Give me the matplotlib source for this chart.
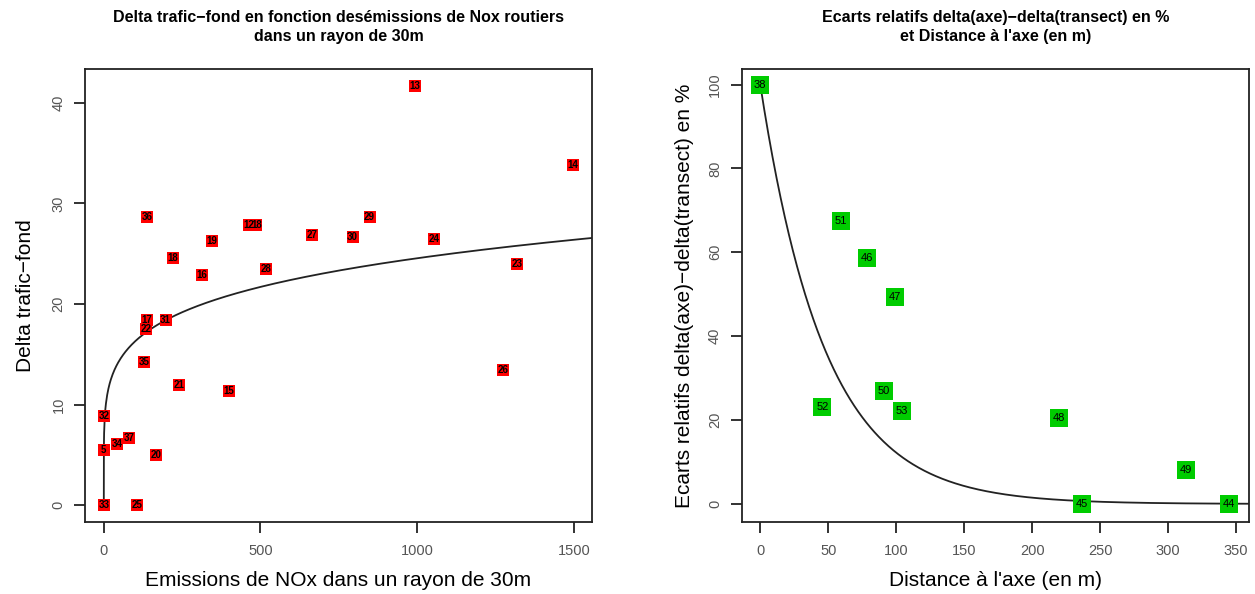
import numpy as np
import matplotlib
matplotlib.use("Agg")
import matplotlib.pyplot as plt

plt.rcParams['font.family'] = ['Liberation Sans Narrow', 'Liberation Sans', 'DejaVu Sans']

# left panel: emissions NOx (30m) vs delta trafic-fond, with site ids
nox = [993, 1498, 138, 345, 462, 487, 666, 794, 848, 1055,
       221, 313, 517, 1320, 138, 197, 136, 128, 241, 400,
       1275, 0, 0, 43, 82, 166, 0, 106]
delta = [41.7, 33.8, 28.7, 26.3, 27.9, 27.9, 26.9, 26.7, 28.7, 26.5,
         24.6, 22.9, 23.5, 24.0, 18.4, 18.4, 17.5, 14.2, 12.0, 11.4,
         13.4, 8.85, 5.5, 6.1, 6.7, 5.0, 0.0, 0.0]
ids_left = ["13", "14", "36", "19", "12", "18", "27", "30", "29", "24",
            "18", "16", "28", "23", "17", "31", "22", "35", "21", "15",
            "26", "32", "5", "34", "37", "20", "33", "25"]
# power fit  y = a * x^b
fit_a, fit_b = 7.18, 0.178

# right panel: distance to axis vs relative gap (%)
dist = [0, 59.6, 78.6, 99.1, 45.7, 91.2, 104, 219.6, 313.3, 237, 345]
ecart = [100, 67.4, 58.7, 49.4, 23.2, 26.9, 22.2, 20.4, 8.0, 0.0, 0.0]
ids_right = ["38", "51", "46", "47", "52", "50", "53", "48", "49", "45", "44"]
# exponential fit  y = 100 * exp(-k x)
fit_k = 0.021

fig = plt.figure(figsize=(12.55, 5.94), dpi=100)
ax1 = fig.add_axes([85 / 1255, 1 - 522 / 594, 507 / 1255, 453 / 594])
ax2 = fig.add_axes([741.5 / 1255, 1 - 522 / 594, 507.5 / 1255, 453 / 594])

for ax in (ax1, ax2):
    for s in ax.spines.values():
        s.set_linewidth(1.3)
        s.set_color('#222222')
    ax.tick_params(axis='both', direction='out', length=8, width=1.3,
                   labelsize=10.5, labelcolor='#555555', color='#222222')
    ax.tick_params(axis='x', pad=8)
    ax.tick_params(axis='y', pad=6)

# left
xs = np.concatenate([np.geomspace(1e-6, 1, 200), np.linspace(1, 1560, 800)])
ax1.plot(np.concatenate([[0], xs]), np.concatenate([[0], fit_a * xs ** fit_b]),
         color='#222222', lw=1.3, zorder=2)
ax1.scatter(nox, delta, marker='s', s=75, color='red', zorder=3, linewidths=0)
for x, y, t in zip(nox, delta, ids_left):
    ax1.text(x, y, t, fontsize=7, fontweight='bold', ha='center', va='center',
             color='black', zorder=4)
ax1.set_xlim(-60, 1558)
ax1.set_ylim(-1.67, 43.37)
ax1.set_xticks([0, 500, 1000, 1500])
ax1.set_yticks([0, 10, 20, 30, 40])
ax1.set_yticklabels(['0', '10', '20', '30', '40'], rotation=90, va='center')
ax1.set_xlabel("Emissions de NOx dans un rayon de 30m", fontsize=15, labelpad=9)
ax1.set_ylabel("Delta trafic\u2212fond", fontsize=15, labelpad=12)
ax1.set_title("Delta trafic\u2212fond en fonction des\u00e9missions de Nox routiers\ndans un rayon de 30m",
              fontsize=11.5, fontweight='bold', pad=20, linespacing=1.35)

# right
xr = np.linspace(0, 360, 600)
ax2.plot(xr, 100 * np.exp(-fit_k * xr), color='#222222', lw=1.3, zorder=2)
ax2.scatter(dist, ecart, marker='s', s=150, color='#00cc00', zorder=3, linewidths=0)
for x, y, t in zip(dist, ecart, ids_right):
    ax2.text(x, y, t, fontsize=8, ha='center', va='center', color='black', zorder=4)
ax2.set_xlim(-13.8, 359.6)
ax2.set_ylim(-4.3, 103.7)
ax2.set_xticks(np.arange(0, 351, 50))
ax2.set_yticks(np.arange(0, 101, 20))
ax2.set_yticklabels([str(v) for v in range(0, 101, 20)], rotation=90, va='center')
ax2.set_xlabel("Distance \u00e0 l'axe (en m)", fontsize=15, labelpad=9)
ax2.set_ylabel("Ecarts relatifs delta(axe)\u2212delta(transect) en %", fontsize=15, labelpad=10)
ax2.set_title("Ecarts relatifs delta(axe)\u2212delta(transect) en %\net Distance \u00e0 l'axe (en m)",
              fontsize=11.5, fontweight='bold', pad=20, linespacing=1.35)

fig.savefig("out.png", dpi=100)
